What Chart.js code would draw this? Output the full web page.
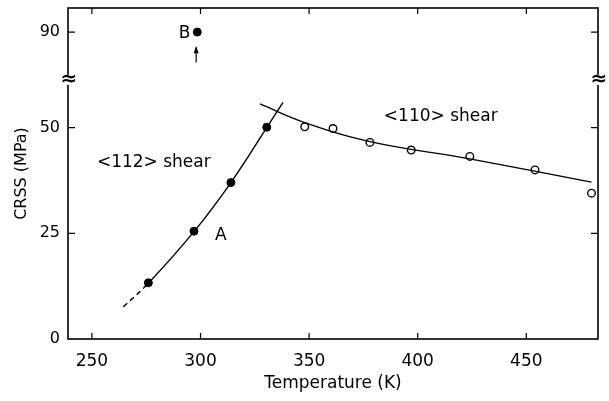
<!DOCTYPE html>
<html>
<head>
<meta charset="utf-8">
<script src="https://cdn.jsdelivr.net/npm/chart.js@4/dist/chart.umd.min.js"></script>
<style>
  body { margin: 0; background: #fff; }
  #wrap { width: 609px; height: 401px; }
</style>
</head>
<body>
<div id="wrap"><canvas id="crssChart" width="609" height="401"></canvas></div>
<script>
// tick labels
const xTicks = [250, 300, 350, 400, 450]
const yTicks = [0, 25, 50, 90]

// <112> shear, filled points
const t112 = [276, 297, 314, 330.5]
const crss112 = [13.3, 25.5, 37.0, 50.1]
// <110> shear, open points
const t110 = [348, 361, 378, 397, 424, 454, 480]
const crss110 = [50.2, 49.8, 46.5, 44.7, 43.2, 40.0, 34.5]
// point B (above the axis break)
const tB = [298.5]
const crssB = [90]

// hand drawn fit curves
const fit112T = [264.5, 276, 297, 314, 330.5, 338]
const fit112 = [7.6, 13.2, 25.4, 37.0, 50.0, 56.0]
const fit110T = [327.4, 348, 378, 424, 480]
const fit110 = [55.6, 51.2, 46.7, 42.6, 37.1]

// the y axis is broken between ~60 and ~80 MPa
const breakAt = 60
const breakShift = 17.4
const breakLevel = 61.3
function toAxis(v) { return v > breakAt ? v - breakShift : v }
function pts(xs, ys) { return xs.map((x, i) => ({x: x, y: toAxis(ys[i])})) }

const font = "'DejaVu Sans', sans-serif"

const framePlugin = {
    id: 'frame',
    afterDraw(chart) {
        const ctx = chart.ctx
        const a = chart.chartArea
        const x = chart.scales.x
        const y = chart.scales.y
        ctx.save()
        ctx.strokeStyle = '#000'
        ctx.lineWidth = 1.6
        ctx.strokeRect(a.left, a.top, a.right - a.left, a.bottom - a.top)

        // inward ticks on all four sides
        ctx.lineWidth = 1.2
        ctx.beginPath()
        xTicks.forEach(function(t) {
            const px = x.getPixelForValue(t)
            ctx.moveTo(px, a.bottom); ctx.lineTo(px, a.bottom - 6)
            ctx.moveTo(px, a.top); ctx.lineTo(px, a.top + 6)
        })
        yTicks.forEach(function(v) {
            if (v === 0) return
            const py = y.getPixelForValue(toAxis(v))
            ctx.moveTo(a.left, py); ctx.lineTo(a.left + 7, py)
            ctx.moveTo(a.right, py); ctx.lineTo(a.right - 7, py)
        })
        ctx.stroke()

        // axis break marks
        const by = y.getPixelForValue(breakLevel)
        ctx.fillStyle = '#fff'
        ctx.fillRect(a.left - 3, by - 5, 6, 10)
        ctx.fillRect(a.right - 3, by - 5, 6, 10)
        ctx.fillStyle = '#000'
        ctx.font = 'bold 20px ' + font
        ctx.textAlign = 'center'
        ctx.textBaseline = 'middle'
        ctx.fillText('\u2248', a.left + 1, by)
        ctx.fillText('\u2248', a.right + 1, by)

        // annotations
        ctx.font = '17px ' + font
        ctx.textAlign = 'left'
        ctx.fillText('<112> shear', x.getPixelForValue(252.3), y.getPixelForValue(41.8))
        ctx.fillText('<110> shear', x.getPixelForValue(384.4), y.getPixelForValue(52.6))
        ctx.fillText('A', x.getPixelForValue(306.7), y.getPixelForValue(24.4))
        ctx.textAlign = 'right'
        ctx.fillText('B', x.getPixelForValue(295.4), y.getPixelForValue(toAxis(89.6)))

        // arrow under B
        const ax = x.getPixelForValue(298)
        const ay1 = y.getPixelForValue(65.4)
        const ay2 = y.getPixelForValue(69.0)
        ctx.lineWidth = 1.2
        ctx.beginPath()
        ctx.moveTo(ax, ay1); ctx.lineTo(ax, ay2)
        ctx.stroke()
        ctx.beginPath()
        ctx.moveTo(ax, ay2 - 1)
        ctx.lineTo(ax - 2.5, ay2 + 6)
        ctx.lineTo(ax + 2.5, ay2 + 6)
        ctx.closePath()
        ctx.fill()
        ctx.restore()
    }
}

const ctx = document.getElementById('crssChart').getContext('2d')
const crssChart = new Chart(ctx, {
    type: 'scatter',
    data: {
        datasets: [
            {
                label: 'fit <112>',
                data: pts(fit112T, fit112),
                showLine: true,
                pointRadius: 0,
                borderColor: '#000',
                borderWidth: 1.4,
                tension: 0.4,
                segment: {
                    borderDash: function(c) { return c.p0DataIndex === 0 ? [5, 4] : undefined }
                }
            },
            {
                label: 'fit <110>',
                data: pts(fit110T, fit110),
                showLine: true,
                pointRadius: 0,
                borderColor: '#000',
                borderWidth: 1.4,
                tension: 0.4
            },
            {
                label: '<112> shear',
                data: pts(t112, crss112),
                pointRadius: 4,
                backgroundColor: '#000',
                borderColor: '#000',
                borderWidth: 1
            },
            {
                label: '<110> shear',
                data: pts(t110, crss110),
                pointRadius: 3.8,
                backgroundColor: '#fff',
                borderColor: '#000',
                borderWidth: 1.4
            },
            {
                label: 'B',
                data: pts(tB, crssB),
                pointRadius: 4,
                backgroundColor: '#000',
                borderColor: '#000',
                borderWidth: 1
            }
        ]
    },
    options: {
        responsive: false,
        animation: false,
        layout: { padding: { left: 12, right: 11, top: 8, bottom: 0 } },
        plugins: {
            legend: { display: false },
            tooltip: { enabled: false }
        },
        scales: {
            x: {
                type: 'linear',
                min: 239,
                max: 483,
                grid: { display: false, drawTicks: false },
                border: { display: false },
                afterBuildTicks: function(scale) {
                    scale.ticks = xTicks.map(function(v) { return {value: v} })
                },
                afterFit: function(scale) {
                    scale.height = 62
                    scale.paddingLeft = 0
                    scale.paddingRight = 0
                },
                ticks: {
                    color: '#000',
                    font: { family: font, size: 17 },
                    padding: 12,
                    maxRotation: 0
                },
                title: {
                    display: true,
                    text: 'Temperature (K)',
                    color: '#000',
                    font: { family: font, size: 17 },
                    padding: { top: 0, bottom: 7 }
                }
            },
            y: {
                type: 'linear',
                min: 0,
                max: 78.3,
                grid: { display: false, drawTicks: false },
                border: { display: false },
                afterBuildTicks: function(scale) {
                    scale.ticks = yTicks.map(function(v) { return {value: toAxis(v)} })
                },
                afterFit: function(scale) {
                    scale.width = 56
                    scale.paddingTop = 0
                    scale.paddingBottom = 0
                },
                ticks: {
                    color: '#000',
                    font: { family: font, size: 16 },
                    padding: 8,
                    callback: function(value, index) { return yTicks[index] }
                },
                title: {
                    display: true,
                    text: 'CRSS (MPa)',
                    color: '#000',
                    font: { family: font, size: 16 },
                    padding: 0
                }
            }
        }
    },
    plugins: [framePlugin]
})
</script>
</body>
</html>
